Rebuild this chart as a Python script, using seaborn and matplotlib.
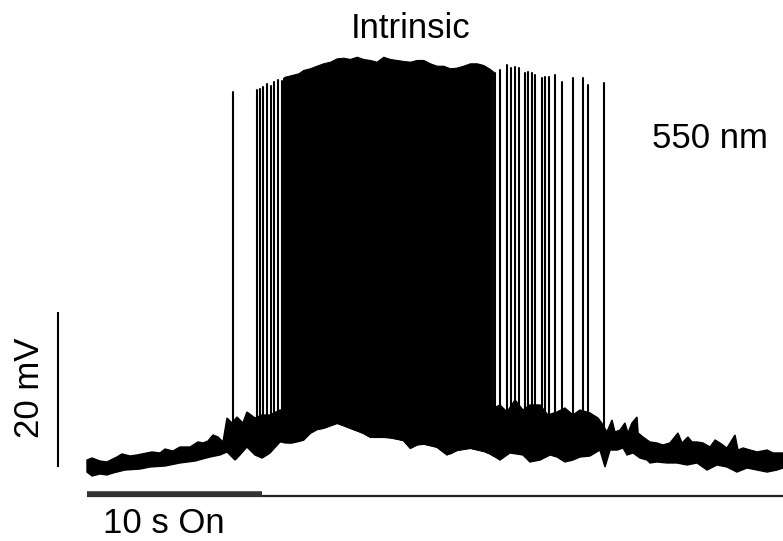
import numpy as np
import pandas as pd
import matplotlib
matplotlib.use("Agg")
import matplotlib.pyplot as plt
import seaborn as sns

# ---- recording: time in s, membrane potential in mV ----
# upper edge of the noisy baseline
hi_t = [0.00, 0.29, 0.74, 1.14, 1.71, 2.00, 2.46, 2.86, 3.43, 3.71, 4.17, 4.46, 4.91,
        5.31, 5.89, 6.34, 6.63, 6.91, 7.20, 7.49, 7.77, 8.00, 8.29, 8.57, 8.91, 9.14,
        9.60, 10.00, 10.46, 11.03, 17.89, 23.03, 23.60, 24.00, 24.46, 24.91, 25.31,
        25.89, 26.34, 26.86, 27.31, 27.77, 28.17, 28.74, 29.20, 29.49, 29.71, 30.00,
        30.17, 30.46, 30.74, 30.91, 31.14, 31.43, 31.49, 31.77, 32.17, 32.57, 32.91,
        33.31, 33.77, 34.00, 34.34, 34.57, 34.86, 35.20, 35.60, 35.89, 36.17, 36.57,
        37.03, 37.20, 37.49, 37.89, 38.29, 38.86, 39.20, 39.77]
hi_v = [-64.10, -63.84, -64.23, -64.35, -63.71, -63.32, -63.58, -63.45, -63.19, -63.06,
        -63.19, -62.68, -62.94, -62.42, -62.42, -61.77, -61.90, -61.65, -60.87, -61.13,
        -61.77, -58.68, -59.32, -58.55, -59.32, -57.90, -58.68, -58.29, -58.29, -57.65,
        -57.65, -57.65, -57.00, -57.90, -56.35, -57.65, -57.00, -57.00, -58.29, -57.90,
        -57.39, -58.29, -57.65, -58.03, -58.68, -59.58, -60.48, -58.94, -60.48, -60.23,
        -59.32, -60.61, -59.32, -58.55, -60.61, -61.13, -61.77, -61.90, -62.16, -61.90,
        -60.61, -61.90, -61.13, -61.77, -61.77, -61.90, -62.42, -61.52, -61.90, -62.55,
        -60.87, -62.81, -62.55, -62.81, -63.06, -62.81, -63.19, -63.19]

# lower edge of the trace (baseline noise and after-hyperpolarisations)
lo_t = [0.00, 0.29, 0.74, 1.14, 1.49, 2.17, 3.03, 3.60, 4.46, 5.31, 6.17, 7.03, 7.60,
        8.00, 8.46, 8.74, 9.14, 9.60, 10.00, 10.29, 10.46, 11.03, 11.60, 12.34, 12.91,
        13.49, 14.29, 15.03, 15.77, 16.17, 17.14, 18.06, 18.46, 19.03, 20.00, 20.57,
        21.14, 21.89, 22.86, 23.60, 24.17, 24.91, 25.31, 25.89, 26.46, 26.86, 27.31,
        27.77, 28.17, 28.74, 29.31, 29.60, 29.89, 30.29, 30.63, 30.86, 31.20, 31.60,
        32.00, 32.17, 32.57, 33.14, 33.71, 34.29, 34.86, 35.43, 36.00, 36.57, 37.14,
        37.71, 38.29, 38.86, 39.43, 39.77]
lo_v = [-65.65, -66.16, -65.90, -66.03, -65.77, -65.39, -65.26, -65.00, -64.87, -64.48,
        -64.23, -63.71, -63.45, -63.06, -64.10, -63.45, -62.42, -63.45, -63.84, -63.45,
        -63.19, -61.77, -61.90, -61.52, -60.23, -59.97, -59.32, -59.97, -60.61, -61.13,
        -61.13, -61.52, -62.55, -61.90, -62.42, -63.45, -62.81, -62.55, -63.06, -64.10,
        -63.19, -63.45, -64.35, -64.10, -63.45, -63.71, -64.35, -64.10, -63.71, -63.58,
        -62.81, -65.00, -62.81, -62.81, -62.55, -63.45, -63.19, -63.84, -64.10, -64.48,
        -64.35, -64.48, -64.48, -64.74, -64.48, -65.39, -64.74, -65.00, -65.65, -65.13,
        -65.39, -65.65, -65.39, -65.13]

# high-frequency burst: peak envelope of the spikes
burst_t = [11.20, 11.31, 11.70, 12.08, 12.36, 12.74, 13.12, 13.50, 13.89, 14.27,
           14.65, 15.03, 15.41, 15.79, 16.17, 16.55, 16.93, 17.31, 17.70, 18.08,
           18.46, 18.84, 19.22, 19.60, 19.98, 20.36, 20.74, 21.12, 21.50, 21.89,
           22.27, 22.65, 23.03, 23.22]
burst_peak = [-14.80, -14.64, -14.42, -14.20, -13.77, -13.55, -13.22, -12.91, -12.70, -12.27,
              -12.19, -12.35, -12.06, -12.35, -12.48, -12.70, -12.06, -12.35, -12.48, -12.61,
              -12.70, -12.48, -12.48, -12.91, -13.22, -13.22, -13.55, -13.47, -13.22, -12.91,
              -12.91, -13.13, -13.65, -14.00]

# isolated action potentials before and after the burst
spike_t = [8.34, 9.71, 9.89, 10.06, 10.29, 10.51, 10.69, 10.91, 11.14,
           23.31, 23.60, 24.00, 24.23, 24.46, 24.69, 25.03, 25.20, 25.43, 25.60,
           26.00, 26.17, 26.40, 26.74, 27.14, 27.77, 28.34, 28.63, 29.54]
spike_peak = [-16.61, -16.35, -16.23, -15.97, -15.58, -15.84, -15.32, -15.06, -15.19,
              -14.16, -13.77, -13.13, -13.52, -13.39, -13.52, -14.16, -14.03, -14.16, -14.42,
              -14.81, -14.68, -14.68, -14.42, -15.32, -14.81, -14.81, -15.71, -15.45]

# stimulus and scale bars
light_on = [0.0, 10.0]
trace_span = [0.0, 39.77]
scale_mV = 20.0

sns.set_theme(style="white")
plt.rcParams["font.family"] = ["Liberation Sans", "DejaVu Sans"]

fig = plt.figure(figsize=(7.83, 5.41), dpi=100)
ax = fig.add_axes([0, 0, 1, 1])
ax.set_xlim(-4.971, 39.771)
ax.set_ylim(-74.548, -4.742)
ax.axis("off")

ink = "black"

# baseline noise band as one polygon (upper edge out, lower edge back)
poly_t = np.r_[hi_t, lo_t[::-1]]
poly_v = np.r_[hi_v, lo_v[::-1]]
ax.fill(poly_t, poly_v, facecolor=ink, edgecolor=ink, linewidth=1.0)

# burst block: spikes too dense to separate
b_low = np.interp(burst_t, lo_t, lo_v)
ax.fill_between(burst_t, b_low, burst_peak, color=ink, linewidth=0.8, edgecolor=ink)

# individual spikes, rising from the middle of the baseline band
rows = []
for i, (t, p) in enumerate(zip(spike_t, spike_peak)):
    base = 0.5 * (np.interp(t, lo_t, lo_v) + np.interp(t, hi_t, hi_v))
    rows.append({"spike": i, "t": t, "v": base})
    rows.append({"spike": i, "t": t, "v": p})
spikes = pd.DataFrame(rows)
sns.lineplot(data=spikes, x="t", y="v", units="spike", estimator=None, sort=False,
             color=ink, linewidth=1.5, legend=False, ax=ax)

# time axis and light-on bar
y_axis = -68.68
ax.plot(trace_span, [y_axis, y_axis], color="#222222", linewidth=1.6,
        solid_capstyle="butt")
ax.plot(light_on, [y_axis + 0.2, y_axis + 0.2], color="#333333", linewidth=4.0,
        solid_capstyle="butt")

# 20 mV scale bar
ax.plot([-1.66, -1.66], [-65.0, -65.0 + scale_mV], color=ink, linewidth=1.5,
        solid_capstyle="butt")

fs = 25
ax.text(18.51, -9.65, "Intrinsic", ha="center", va="baseline", fontsize=fs, color=ink)
ax.text(32.29, -23.84, "550 nm", ha="left", va="baseline", fontsize=fs, color=ink)
ax.text(0.914, -73.52, "10 s On", ha="left", va="baseline", fontsize=fs, color=ink)
ax.text(-3.31, -54.81, f"{int(scale_mV)} mV", ha="center", va="center", rotation=90,
        fontsize=fs, color=ink)

fig.savefig("out.png", dpi=100)
